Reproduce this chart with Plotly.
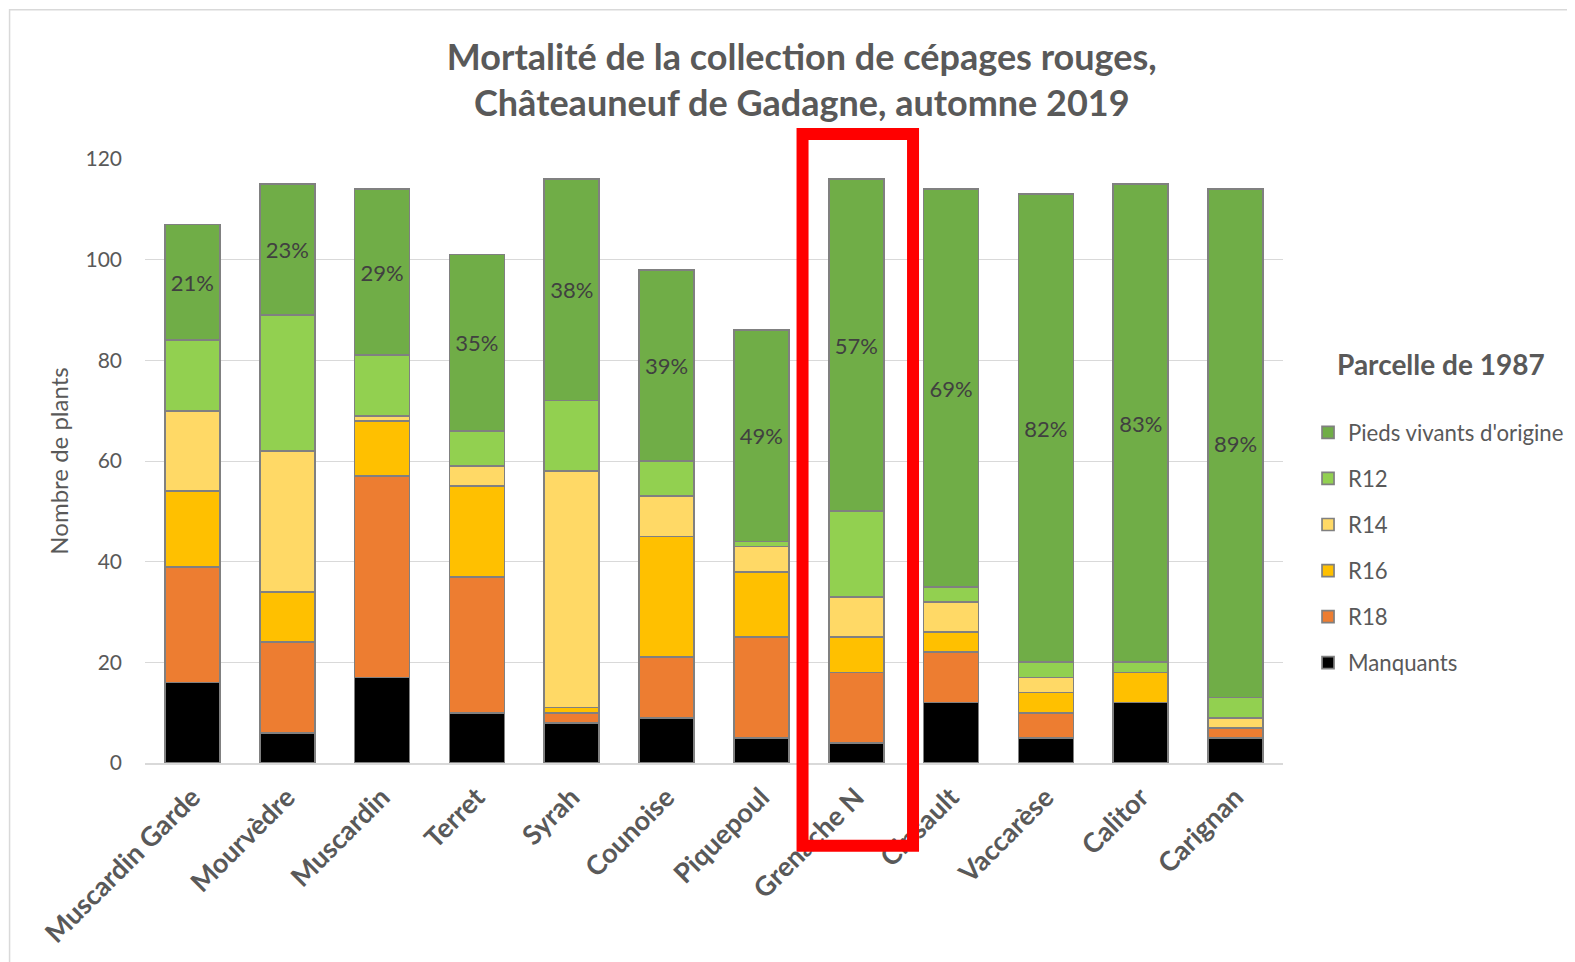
import plotly.graph_objects as go

categories = ["Muscardin Garde", "Mourvèdre", "Muscardin", "Terret", "Syrah", "Counoise",
              "Piquepoul", "Grenache N", "Cinsault", "Vaccarèse", "Calitor", "Carignan"]
manquants = [16, 6, 17, 10, 8, 9, 5, 4, 12, 5, 12, 5]
r18 = [23, 18, 40, 27, 2, 12, 20, 14, 10, 5, 0, 2]
r16 = [15, 10, 11, 18, 1, 24, 13, 7, 4, 4, 6, 0]
r14 = [16, 28, 1, 4, 47, 8, 5, 8, 6, 3, 0, 2]
r12 = [14, 27, 12, 7, 14, 7, 1, 17, 3, 3, 2, 4]
pieds = [23, 26, 33, 35, 44, 38, 42, 66, 79, 93, 95, 101]
pct_labels = ["21%", "23%", "29%", "35%", "38%", "39%", "49%", "57%", "69%", "82%", "83%", "89%"]
y_ticks = [0, 20, 40, 60, 80, 100, 120]

series = [
    ("Manquants", manquants, "#000000"),
    ("R18", r18, "#ED7D31"),
    ("R16", r16, "#FFC000"),
    ("R14", r14, "#FFD966"),
    ("R12", r12, "#92D050"),
    ("Pieds vivants d'origine", pieds, "#70AD47"),
]

FONT = "Lato"
GREY = "#595959"

fig = go.Figure()
n = len(series)
for i, (name, vals, col) in enumerate(series):
    kw = {}
    if name.startswith("Pieds"):
        kw = dict(text=pct_labels, textposition="inside", insidetextanchor="middle",
                  textangle=0, constraintext="none",
                  textfont=dict(family=FONT, size=22, color="#404040"))
    fig.add_trace(go.Bar(
        x=categories, y=vals, name=name, legendgroup=name, legendrank=n - i,
        marker=dict(color=col, line=dict(color="#808080", width=1.7)),
        hoverinfo="x+y+name", **kw))

fig.update_layout(
    width=1575, height=962,
    barmode="stack", bargap=0.42,
    paper_bgcolor="white", plot_bgcolor="white",
    margin=dict(l=137, r=300, t=151, b=207),
    font=dict(family=FONT, color=GREY),
    title=dict(text="<b>Mortalité de la collection de cépages rouges,<br>Châteauneuf de Gadagne, automne 2019</b>",
               x=0.504, xanchor="center", y=0.936, yanchor="middle",
               font=dict(family=FONT, size=36, color=GREY)),
    legend=dict(
        x=1.022, xanchor="left", y=0.582, yanchor="top",
        traceorder="grouped", tracegroupgap=14.2,
        font=dict(family=FONT, size=22.2, color=GREY),
        bgcolor="rgba(0,0,0,0)"),
    showlegend=True,
)
fig.update_yaxes(range=[0, 120], tickvals=y_ticks, showgrid=True, gridcolor="#D9D9D9",
                 gridwidth=1.3, zeroline=False, showline=False,
                 tickfont=dict(family=FONT, size=21, color=GREY), ticklabelstandoff=22,
                 title=dict(text="Nombre de plants", standoff=10,
                            font=dict(family=FONT, size=24, color=GREY)))
fig.update_xaxes(tickangle=-45, showline=True, linecolor="#D9D9D9", linewidth=1.5,
                 ticks="", ticklabelstandoff=6,
                 tickfont=dict(family=FONT, size=27, color=GREY, weight="bold"))

# legend title
fig.add_annotation(text="<b>Parcelle de 1987</b>", xref="paper", yref="paper",
                   x=1.1392, y=0.661, xanchor="center", yanchor="middle", showarrow=False,
                   font=dict(family=FONT, size=28, color=GREY))

# highlight rectangle around Grenache N
fig.add_shape(type="rect", xref="paper", yref="paper", x0=0.5778, x1=0.6749, y0=-0.137, y1=1.0412,
              line=dict(color="#FF0000", width=12), fillcolor="rgba(0,0,0,0)", layer="above")
# outer chart frame
fig.add_shape(type="rect", xref="paper", yref="paper", x0=-0.119, x1=1.40, y0=-0.5, y1=1.247,
              line=dict(color="#D9D9D9", width=1.5), fillcolor="rgba(0,0,0,0)", layer="below")

fig.write_html("out.html")
